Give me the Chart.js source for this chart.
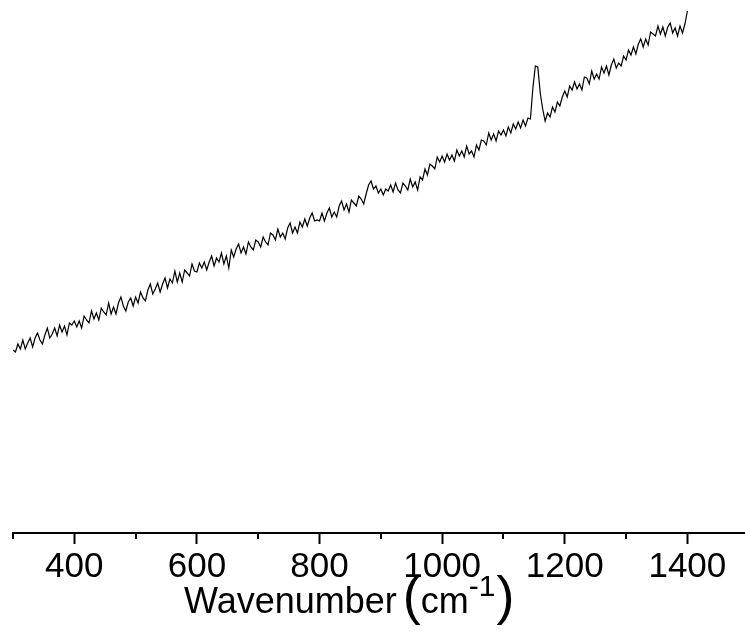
<!DOCTYPE html>
<html>
<head>
<meta charset="utf-8">
<script src="https://cdn.jsdelivr.net/npm/chart.js@4/dist/chart.umd.min.js"></script>
<style>
html,body{margin:0;padding:0;background:#fff;}
#wrap{width:745px;height:635px;}
</style>
</head>
<body>
<div id="wrap"><canvas id="c" width="745" height="635"></canvas></div>
<script>
// Wavenumbers (cm-1), 300..1400 step 4
const wavenumbers = [];
for (let w = 300; w <= 1400; w += 4) wavenumbers.push(w);

// Intensity (a.u.), one row per 100 cm-1
const intensity = [
 183,181,189,184,193,184,190,195,186,195,200,193,189,198,205,195,199,205,197,208,201,207,198,210,208,
 212,206,212,205,217,213,210,222,214,220,213,225,221,218,230,219,226,219,230,236,227,222,231,235,227,
 236,230,241,235,232,243,249,239,244,250,241,249,255,245,254,250,262,251,260,251,263,260,257,269,262,
 261,270,265,271,263,271,277,267,275,271,280,269,277,265,283,276,284,289,280,286,279,291,286,283,293,
 291,286,296,291,288,300,298,293,304,296,300,294,305,310,300,306,300,311,306,314,307,315,320,312,313,
 312,320,312,320,325,316,321,316,327,332,323,329,321,333,330,327,337,334,329,339,348,352,344,347,340,
 344,338,344,342,348,341,350,343,340,350,347,343,354,346,351,343,356,353,364,358,369,367,364,376,371,
 377,371,379,373,378,372,383,377,382,376,387,379,382,376,388,383,393,392,388,400,393,399,392,402,398,
 403,397,406,400,409,404,411,405,413,407,415,414,445,467,466,440,424,412,420,416,426,421,431,427,436,
 442,436,447,443,451,444,449,443,456,455,449,462,454,459,454,466,460,467,458,468,474,465,470,467,477,
 473,483,478,486,479,489,494,486,494,488,501,499,497,507,499,506,497,506,510,500,505,497,507,500,509,
 522
];

const xMin = 300, xMax = 1494;
const yMin = 0, yMax = 533;
const majorTicks = [400, 600, 800, 1000, 1200, 1400];
const minorTicks = [300, 500, 700, 900, 1100, 1300];
const xTitleMain = 'Wavenumber ';
const xTitleUnit = 'cm';
const xTitleExp = '-1';

const FONT = "'Liberation Sans', Arial, sans-serif";

const minorTickPlugin = {
  id: 'minorTicks',
  afterDraw(chart) {
    const s = chart.scales.x, ctx = chart.ctx, y0 = chart.chartArea.bottom;
    ctx.save();
    ctx.strokeStyle = '#000';
    ctx.lineWidth = 2;
    minorTicks.forEach(v => {
      const px = Math.round(s.getPixelForValue(v));
      ctx.beginPath();
      ctx.moveTo(px, y0 - 1);
      ctx.lineTo(px, y0 + 6);
      ctx.stroke();
    });
    ctx.restore();
  }
};

// Axis title with superscript and tall parentheses
const axisTitlePlugin = {
  id: 'axisTitle',
  afterDraw(chart) {
    const ctx = chart.ctx;
    const base = 613;
    let x = 184;
    ctx.save();
    ctx.fillStyle = '#000';
    ctx.textBaseline = 'alphabetic';
    ctx.textAlign = 'left';
    ctx.font = '36px ' + FONT;
    ctx.fillText(xTitleMain, x, base);
    x += ctx.measureText(xTitleMain).width - 4;
    ctx.font = '54px ' + FONT;
    ctx.fillText('(', x, base + 1);
    x += ctx.measureText('(').width;
    ctx.font = '36px ' + FONT;
    ctx.fillText(xTitleUnit, x, base);
    x += ctx.measureText(xTitleUnit).width;
    ctx.font = '30px ' + FONT;
    ctx.fillText(xTitleExp, x, base - 17);
    x += ctx.measureText(xTitleExp).width + 1;
    ctx.font = '54px ' + FONT;
    ctx.fillText(')', x, base + 1);
    ctx.restore();
  }
};

new Chart(document.getElementById('c'), {
  type: 'line',
  data: {
    datasets: [{
      data: wavenumbers.map((w, i) => ({x: w, y: intensity[i]})),
      borderColor: '#000',
      borderWidth: 1.2,
      pointRadius: 0,
      tension: 0,
      fill: false
    }]
  },
  options: {
    responsive: false,
    animation: false,
    layout: {padding: {left: 13, right: 0, top: 0, bottom: 0}},
    plugins: {legend: {display: false}, tooltip: {enabled: false}},
    scales: {
      x: {
        type: 'linear',
        min: xMin, max: xMax,
        afterBuildTicks: s => { s.ticks = majorTicks.map(v => ({value: v})); },
        afterFit: s => { s.height = 102; },
        border: {display: true, color: '#000', width: 2},
        grid: {display: true, drawOnChartArea: false, drawTicks: true, tickLength: 11, tickColor: '#000', tickWidth: 2},
        ticks: {color: '#000', font: {family: FONT, size: 35}, padding: 2, maxRotation: 0, autoSkip: false,
                callback: v => String(v)},
        title: {display: false}
      },
      y: {
        display: false,
        min: yMin, max: yMax
      }
    }
  },
  plugins: [minorTickPlugin, axisTitlePlugin]
});
</script>
</body>
</html>
